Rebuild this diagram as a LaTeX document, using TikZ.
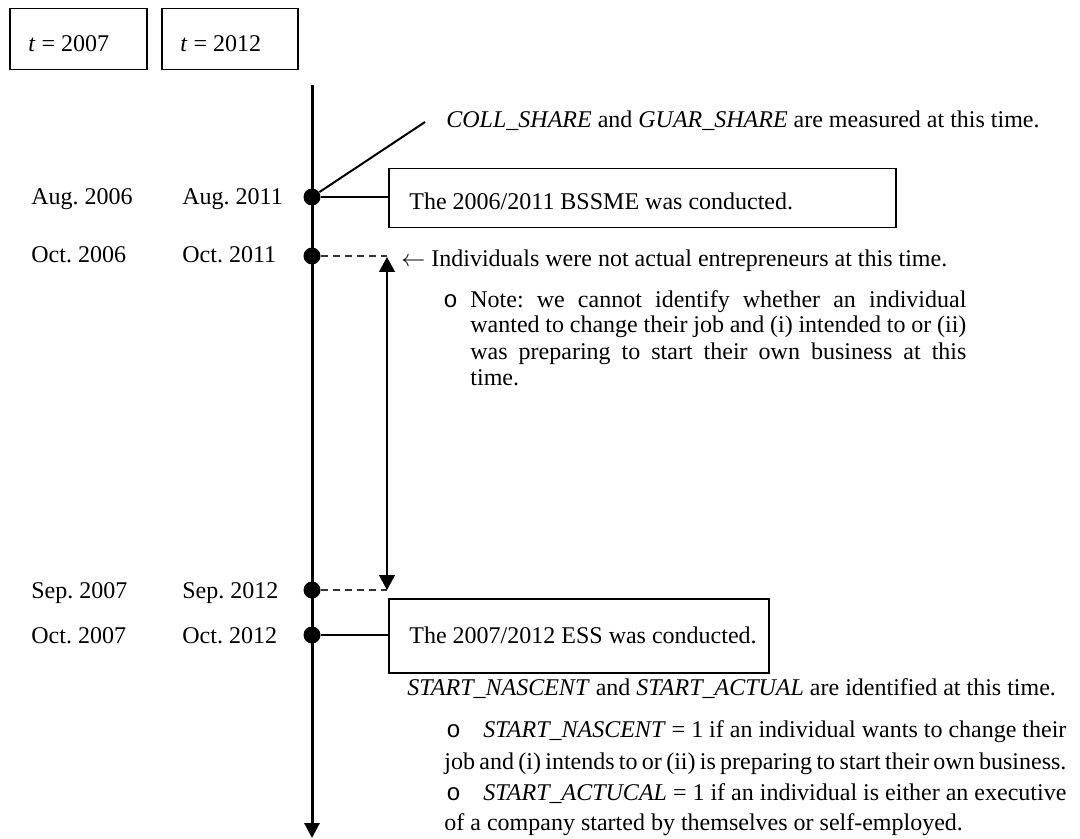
\documentclass[tikz,border=0pt]{standalone}
\usepackage{fontspec}
\setmainfont{Liberation Serif}
\newfontfamily\bulletfont{Liberation Mono}
\usetikzlibrary{arrows.meta}
\frenchspacing
\begin{document}
\begin{tikzpicture}[x=0.5pt,y=-0.5pt,
  every node/.style={inner sep=0pt, font=\fontsize{12pt}{13.8pt}\selectfont},
  tbox/.style={draw, line width=0.75pt, rectangle, anchor=north west},
  dotn/.style={circle, fill=black, minimum size=8.5pt, inner sep=0pt},
  txt/.style={anchor=base west},
  axis/.style={line width=1.5pt, -{Triangle[length=7.5pt,width=7.5pt]}},
  link/.style={line width=1pt},
  dashlink/.style={line width=1pt, dash pattern=on 3.5pt off 2.5pt, draw=black!80},
  span/.style={line width=0.6pt, {Triangle[length=7.5pt,width=8pt]}-{Triangle[length=7.5pt,width=8pt]}},
]
\useasboundingbox (0,0) rectangle (1080,839);

% year boxes
\node[tbox, minimum width=68.5pt, minimum height=30.5pt] (b1) at (9,8) {};
\node[txt] (b1t) at (28,52) {\textit{t} = 2007};
\node[tbox, minimum width=68pt, minimum height=30.5pt] (b2) at (161,8) {};
\node[txt] (b2t) at (180,52) {\textit{t} = 2012};

% axis
\coordinate (axtop) at (312,85);
\coordinate (axbot) at (312,838);
\draw[axis] (axtop) -- (axbot);

% dots
\node[dotn] (d1) at (312,197) {};
\node[dotn] (d2) at (312,256) {};
\node[dotn] (d3) at (312,590) {};
\node[dotn] (d4) at (312,635) {};

% date labels
\node[txt] (l1a) at (31,205) {Aug. 2006};
\node[txt] (l1b) at (182,205) {Aug. 2011};
\node[txt] (l2a) at (31,263) {Oct. 2006};
\node[txt] (l2b) at (182,263) {Oct. 2011};
\node[txt] (l3a) at (31,598) {Sep. 2007};
\node[txt] (l3b) at (182,598) {Sep. 2012};
\node[txt] (l4a) at (31,643) {Oct. 2007};
\node[txt] (l4b) at (182,643) {Oct. 2012};

% COLL / GUAR
\coordinate (diag) at (425,122);
\draw[link] (d1) -- (diag);
\node[txt] (coll) at (446,128) {\textit{COLL\_SHARE} and \textit{GUAR\_SHARE} are measured at this time.};

% BSSME box
\node[tbox, minimum width=253.5pt, minimum height=29.5pt] (bssme) at (388,168) {};
\node[txt] (bssmet) at (409,210) {The 2006/2011 BSSME was conducted.};
\draw[link] (d1) -- (d1 -| bssme.west);

% span arrow
\coordinate (spTop) at (387,257);
\coordinate (spBot) at (387,590);
\draw[dashlink] (d2) -- (d2 -| spTop);
\draw[dashlink] (d3) -- (d3 -| spBot);
\draw[span] (spTop) -- (spBot);

\node[txt] (indiv) at (401,267) {$\leftarrow$ Individuals were not actual entrepreneurs at this time.};
\node[txt] (nb) at (443,307) {\bulletfont o};
\node[txt] (n1) at (470,307) {\makebox[248pt][s]{Note: we cannot identify whether an individual}};
\node[txt] (n2) at (470,333) {\makebox[248pt][s]{wanted to change their job and (i) intended to or (ii)}};
\node[txt] (n3) at (470,359) {\makebox[248pt][s]{was preparing to start their own business at this}};
\node[txt] (n4) at (470,385) {time.};

% ESS box
\node[tbox, minimum width=190pt, minimum height=37pt] (ess) at (388,598) {};
\node[txt] (esst) at (409,643) {The 2007/2012 ESS was conducted.};
\draw[link] (d4) -- (d4 -| ess.west);

% bottom notes
\node[txt] (head) at (407,695) {\textit{START\_NASCENT} and \textit{START\_ACTUAL} are identified at this time.};
\node[txt] (bb1) at (446,737) {\bulletfont o};
\node[txt] (s1) at (483,737) {\makebox[291.5pt][s]{\textit{START\_NASCENT} = 1 if an individual wants to change their}};
\node[txt] (s2) at (444,769) {\makebox[311pt][s]{job and (i) intends to or (ii) is preparing to start their own business.}};
\node[txt] (bb2) at (446,800) {\bulletfont o};
\node[txt] (s3) at (483,800) {\makebox[291.5pt][s]{\textit{START\_ACTUCAL} = 1 if an individual is either an executive}};
\node[txt] (s4) at (444,830) {of a company started by themselves or self-employed.};
\end{tikzpicture}
\end{document}
